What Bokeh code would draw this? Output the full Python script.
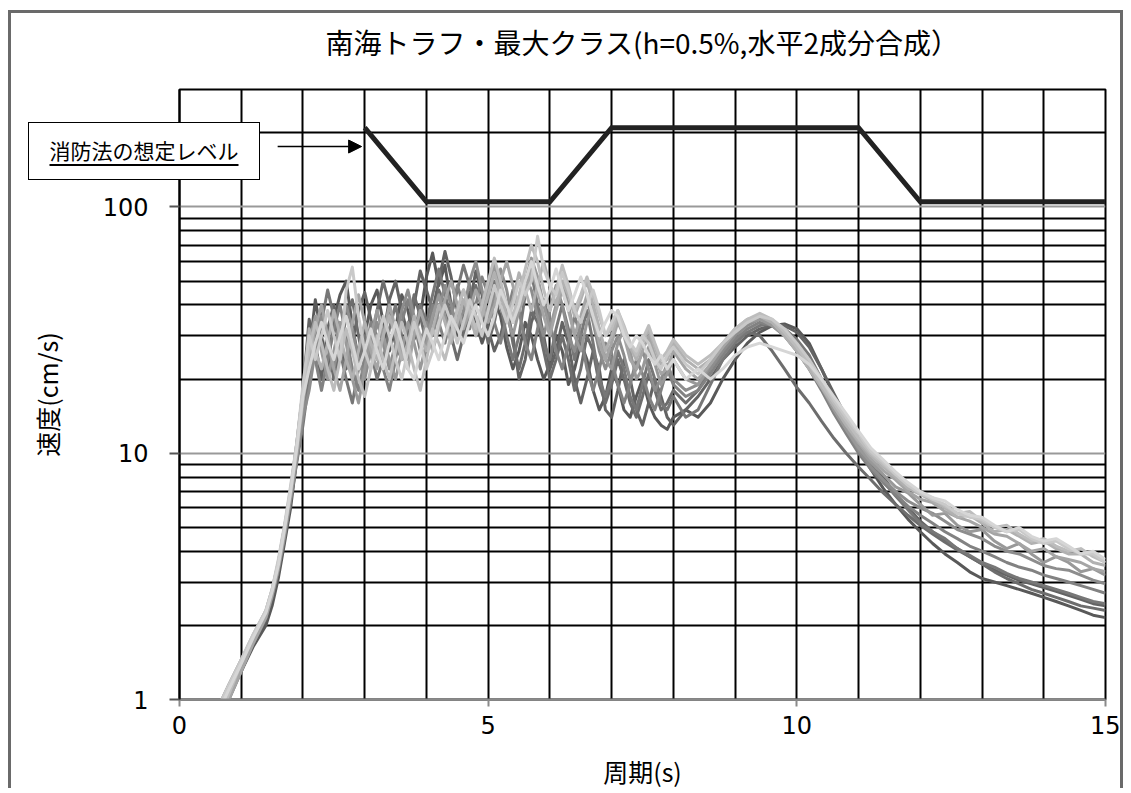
from bokeh.plotting import figure
from bokeh.models import Range1d, FixedTicker, PrintfTickFormatter, Arrow, NormalHead, Div, Title
from bokeh.layouts import column
from bokeh.embed import file_html
from bokeh.resources import INLINE

# ---------------- data ----------------
TITLE = "南海トラフ・最大クラス(h=0.5%,水平2成分合成）"
X_LABEL = "周期(s)"
Y_LABEL = "速度(cm/s)"
NOTE = "消防法の想定レベル"

X_TICKS = [0, 5, 10, 15]
Y_TICKS = [1, 10, 100]
Y_MINOR = [2, 3, 4, 5, 6, 7, 8, 9, 20, 30, 40, 50, 60, 70, 80, 90, 200]
X_GRID = [0, 1, 2, 3, 4, 5, 6, 7, 8, 9, 10, 11, 12, 13, 14, 15]

# fire service act assumed level
LEVEL_X = [3, 4, 6, 7, 11, 12, 15]
LEVEL_Y = [210, 105, 105, 210, 210, 105, 105]

# period grid (s)
X_A = [0.6, 0.8, 1.0, 1.2, 1.4, 1.5, 1.6, 1.7, 1.8, 1.9, 2.0]
X_B = [2.1, 2.2, 2.3, 2.4, 2.5, 2.6, 2.7, 2.8, 2.9, 3.0,
       3.1, 3.2, 3.3, 3.4, 3.5, 3.6, 3.7, 3.8, 3.9, 4.0,
       4.1, 4.2, 4.3, 4.4, 4.5, 4.6, 4.7, 4.8, 4.9, 5.0,
       5.1, 5.2, 5.3, 5.4, 5.5, 5.6, 5.7, 5.8, 5.9, 6.0,
       6.1, 6.2, 6.3, 6.4, 6.5, 6.6, 6.7, 6.8, 6.9, 7.0,
       7.1, 7.2, 7.3, 7.4, 7.5, 7.6, 7.7, 7.8, 7.9, 8.0]
X_C = [8.2, 8.4, 8.6, 8.8, 9.0, 9.2, 9.4, 9.6, 9.8, 10.0,
       10.2, 10.4, 10.6, 10.8, 11.0, 11.2, 11.4, 11.6, 11.8, 12.0,
       12.2, 12.4, 12.6, 12.8, 13.0, 13.2, 13.4, 13.6, 13.8, 14.0,
       14.2, 14.4, 14.6, 14.8, 15.0]
PERIOD = X_A + X_B + X_C

s1 = ([0.8, 1.05, 1.3, 1.65, 2.0, 2.4, 3.1, 4.3, 6.0, 9.5, 14] +
      [25, 42, 30, 22, 35, 44, 50, 33, 24, 30, 40, 46, 34, 26, 32, 44, 38, 29, 36, 52,
       65, 48, 58, 40, 30, 36, 45, 34, 28, 33, 42, 36, 27, 22, 26, 34, 30, 24, 20, 23,
       30, 26, 19, 22, 28, 24, 18, 15, 17, 22, 19, 15, 14, 17, 20, 16, 14, 13, 12.5, 14] +
      [15, 14, 16, 20, 24, 28, 31, 33, 33.5, 32, 28, 22, 17, 13, 10.5, 8.6, 7.2, 6.2, 5.4, 4.8,
       4.3, 3.9, 3.6, 3.3, 3.1, 3.0, 2.9, 2.8, 2.7, 2.6, 2.5, 2.4, 2.3, 2.2, 2.15])
s2 = ([0.75, 1.0, 1.3, 1.7, 2.1, 2.6, 3.4, 4.8, 7.0, 11, 18] +
      [35, 28, 20, 32, 40, 30, 22, 28, 38, 45, 35, 26, 30, 42, 50, 38, 30, 40, 55, 46,
       38, 50, 66, 52, 38, 30, 40, 55, 44, 32, 26, 30, 38, 30, 20, 24, 34, 40, 30, 22,
       26, 34, 28, 20, 16, 20, 26, 22, 15, 14, 18, 24, 20, 15, 13, 16, 20, 17, 14, 13] +
      [15, 17, 20, 24, 27, 30, 32, 33, 33, 31, 27, 22, 17.5, 14, 11.5, 9.5, 8.0, 6.8, 6.0, 5.3,
       4.8, 4.4, 4.1, 3.8, 3.55, 3.35, 3.2, 3.05, 2.95, 2.85, 2.75, 2.65, 2.55, 2.45, 2.4])
s3 = ([0.85, 1.1, 1.4, 1.75, 2.2, 2.7, 3.5, 4.8, 6.8, 10, 15] +
      [22, 30, 38, 28, 20, 26, 36, 42, 30, 22, 28, 38, 50, 40, 28, 24, 32, 44, 36, 28,
       34, 46, 40, 30, 24, 30, 40, 48, 38, 28, 34, 46, 40, 28, 22, 28, 38, 34, 26, 20,
       24, 30, 24, 18, 22, 30, 26, 19, 16, 19, 24, 20, 16, 14, 17, 21, 18, 15, 16, 18] +
      [16, 18, 22, 26, 29, 31, 30, 26, 22, 18.5, 16, 13.5, 11.5, 10, 8.8, 7.8, 6.9, 6.2, 5.6, 5.1,
       4.7, 4.35, 4.05, 3.8, 3.55, 3.3, 3.1, 2.95, 2.8, 2.7, 2.6, 2.5, 2.4, 2.35, 2.3])
s4 = ([0.8, 1.05, 1.35, 1.7, 2.15, 2.6, 3.3, 4.5, 6.4, 9.2, 13] +
      [20, 26, 34, 46, 36, 26, 20, 16, 22, 30, 26, 20, 24, 32, 40, 30, 24, 30, 40, 34,
       44, 56, 44, 36, 46, 58, 48, 36, 30, 38, 50, 40, 30, 24, 30, 44, 54, 40, 28, 24,
       32, 40, 32, 24, 30, 38, 28, 20, 17, 20, 26, 22, 17, 15, 19, 24, 20, 16, 15, 17] +
      [14, 15, 19, 24, 28, 31, 33, 33.5, 32, 29, 25, 20, 16, 13, 10.8, 9.0, 7.7, 6.7, 5.9, 5.2,
       4.8, 4.5, 4.1, 3.85, 3.6, 3.45, 3.25, 3.1, 3.0, 2.9, 2.8, 2.7, 2.6, 2.5, 2.45])
s5 = ([0.9, 1.15, 1.45, 1.8, 2.25, 2.7, 3.5, 4.7, 6.6, 9.6, 16] +
      [30, 24, 18, 24, 32, 40, 30, 22, 18, 24, 34, 30, 22, 18, 24, 34, 42, 34, 26, 30,
       40, 34, 28, 36, 48, 40, 32, 40, 52, 44, 34, 28, 36, 46, 38, 28, 24, 32, 42, 34,
       26, 22, 28, 36, 30, 22, 18, 22, 28, 24, 19, 16, 19, 24, 21, 17, 15, 18, 22, 19] +
      [17, 18, 21, 25, 29, 32, 34, 33, 30, 26, 22, 18, 14.5, 12, 10, 8.6, 7.6, 6.8, 6.1, 5.6,
       5.2, 4.8, 4.5, 4.2, 4.0, 3.8, 3.6, 3.45, 3.35, 3.2, 3.1, 3.0, 2.9, 2.8, 2.7])
s6 = ([0.8, 1.05, 1.35, 1.75, 2.2, 2.65, 3.4, 4.6, 6.5, 9.4, 14] +
      [18, 26, 36, 28, 22, 30, 40, 32, 24, 20, 26, 34, 28, 22, 28, 38, 46, 36, 28, 34,
       30, 38, 48, 40, 32, 38, 50, 60, 46, 36, 44, 56, 46, 34, 40, 52, 46, 36, 30, 38,
       48, 40, 30, 26, 34, 42, 34, 26, 22, 26, 30, 25, 20, 22, 26, 22, 18, 20, 23, 20] +
      [18, 19, 22, 26, 30, 33, 35, 34, 31, 27, 23, 19, 15.5, 12.5, 10.3, 8.8, 7.8, 7.0, 6.4, 6.0,
       5.7, 5.3, 4.9, 4.7, 4.5, 4.2, 4.0, 3.9, 3.7, 3.5, 3.4, 3.35, 3.2, 3.05, 2.95])
s7 = ([0.85, 1.1, 1.4, 1.8, 2.25, 2.75, 3.6, 5.0, 7.0, 10.5, 17] +
      [28, 36, 26, 20, 26, 34, 28, 20, 16, 22, 30, 38, 30, 24, 20, 26, 34, 28, 22, 28,
       36, 44, 36, 30, 38, 46, 38, 30, 36, 48, 58, 46, 36, 30, 38, 50, 62, 52, 40, 32,
       40, 50, 40, 30, 26, 34, 40, 32, 24, 22, 28, 32, 26, 20, 22, 27, 23, 19, 21, 24] +
      [20, 19, 23, 27, 31, 34, 35, 33, 30, 26, 22, 18.5, 15, 12.5, 10.5, 9.2, 8.2, 7.3, 6.9, 6.2,
       5.6, 5.7, 5.1, 4.8, 4.9, 4.4, 4.1, 4.3, 3.9, 3.6, 3.8, 3.6, 3.3, 3.4, 3.2])
s8 = ([0.75, 1.0, 1.3, 1.7, 2.15, 2.65, 3.4, 4.7, 6.8, 10, 16] +
      [24, 32, 40, 30, 22, 18, 24, 34, 44, 34, 26, 22, 30, 40, 32, 26, 22, 30, 38, 32,
       26, 32, 42, 50, 40, 32, 38, 46, 40, 34, 40, 50, 60, 48, 38, 44, 56, 46, 36, 30,
       38, 46, 38, 30, 36, 44, 36, 28, 24, 28, 34, 30, 24, 22, 26, 30, 25, 21, 22, 26] +
      [22, 20, 23, 27, 31, 34, 36, 34, 31, 27, 23, 19, 15.5, 13, 11, 9.5, 8.5, 7.8, 7.0, 6.5,
       6.3, 5.8, 5.5, 5.3, 5.0, 4.7, 4.6, 4.3, 4.0, 4.1, 3.8, 3.7, 3.6, 3.4, 3.3])
s9 = ([0.85, 1.1, 1.45, 1.85, 2.3, 2.8, 3.6, 4.9, 7.0, 10.5, 17] +
      [32, 26, 22, 28, 38, 30, 24, 20, 26, 34, 28, 24, 30, 36, 30, 24, 28, 36, 30, 26,
       32, 40, 34, 28, 34, 42, 36, 30, 36, 44, 54, 44, 36, 42, 54, 46, 38, 48, 60, 48,
       40, 50, 44, 36, 42, 50, 40, 32, 26, 30, 36, 32, 27, 24, 28, 32, 27, 23, 24, 28] +
      [24, 22, 24, 28, 32, 35, 36, 34, 30, 26, 22, 18.5, 15.5, 13, 11.2, 9.8, 8.8, 8.0, 7.2, 6.8,
       6.4, 6.0, 5.5, 5.6, 5.2, 4.8, 4.9, 4.6, 4.3, 4.4, 4.1, 3.9, 3.9, 3.6, 3.5])
s10 = ([0.8, 1.05, 1.4, 1.8, 2.3, 2.8, 3.6, 5.0, 7.2, 11, 18] +
       [26, 34, 28, 22, 18, 24, 32, 26, 20, 17, 22, 30, 24, 20, 26, 34, 28, 22, 18, 24,
        32, 28, 24, 30, 38, 46, 38, 32, 40, 50, 62, 50, 40, 36, 44, 56, 70, 60, 46, 38,
        46, 58, 48, 38, 44, 52, 44, 36, 30, 32, 38, 33, 28, 25, 29, 33, 28, 24, 26, 29] +
       [25, 23, 25, 28, 32, 35, 37, 35, 31, 27, 23, 19, 16, 13.5, 11.5, 10, 9.0, 8.2, 7.5, 6.8,
        6.6, 6.1, 5.7, 5.8, 5.3, 5.0, 5.1, 4.7, 4.4, 4.5, 4.2, 4.0, 4.1, 3.8, 3.6])
s11 = ([0.9, 1.15, 1.45, 1.85, 2.3, 2.8, 3.7, 5.1, 7.4, 11, 19] +
       [30, 24, 30, 38, 30, 24, 46, 57, 36, 26, 22, 28, 36, 30, 24, 20, 26, 34, 28, 22,
        26, 34, 40, 34, 28, 34, 42, 36, 30, 38, 48, 40, 34, 40, 50, 44, 50, 76, 56, 48,
        44, 54, 46, 38, 34, 40, 46, 38, 30, 34, 38, 32, 28, 26, 30, 28, 24, 22, 25, 27] +
       [23, 21, 24, 28, 31, 34, 36, 35, 32, 28, 24, 20, 16.5, 14, 12, 10.2, 9.2, 8.2, 7.4, 6.9,
        6.5, 6.2, 5.7, 5.5, 5.4, 5.0, 4.8, 4.9, 4.5, 4.3, 4.4, 4.1, 3.9, 3.9, 3.6])
s12 = ([0.85, 1.1, 1.4, 1.8, 2.25, 2.75, 3.5, 4.9, 7.0, 10.5, 17] +
       [22, 28, 34, 28, 24, 30, 36, 28, 22, 26, 32, 26, 22, 28, 34, 28, 22, 20, 26, 32,
        28, 24, 30, 36, 32, 28, 34, 40, 34, 30, 36, 46, 40, 34, 40, 50, 60, 48, 40, 46,
        56, 46, 38, 44, 52, 44, 36, 30, 34, 38, 36, 30, 27, 30, 28, 25, 23, 25, 22, 24] +
       [20, 22, 20, 22, 25, 27, 28, 27, 26, 25, 23, 20, 17, 14.5, 12.3, 10.5, 9.4, 8.4, 7.6, 7.0,
        6.6, 6.4, 5.9, 5.6, 5.5, 5.1, 4.8, 5.0, 4.6, 4.4, 4.5, 4.2, 3.9, 4.0, 3.7])

SERIES = [s1, s2, s3, s4, s5, s6, s7, s8, s9, s10, s11, s12]
GRAYS = ["#595959", "#636363", "#6d6d6d", "#777777", "#828282", "#8d8d8d",
         "#999999", "#a5a5a5", "#b1b1b1", "#bdbdbd", "#c9c9c9", "#d6d6d6"]

# ---------------- figure ----------------
JP = "Noto Sans CJK JP"
p = figure(width=1115, height=778, x_range=Range1d(0, 15), y_range=Range1d(1, 300),
           y_axis_type="log", output_backend="svg", toolbar_location=None, title=None,
           min_border_left=168, min_border_right=21, min_border_top=76, min_border_bottom=92)
p.margin = (10, 0, 0, 8)
p.styles = {"border-left": "3px solid #6a6a6a", "border-top": "3px solid #6a6a6a",
            "border-right": "3px solid #6a6a6a"}
p.background_fill_color = "white"
p.border_fill_color = "white"
p.outline_line_color = "black"
p.outline_line_width = 2

# title: a small spacer next to the frame, then the main title above it
p.add_layout(Title(text=" ", text_font_size="10px", standoff=8), "above")
p.add_layout(Title(text=TITLE, align="center", vertical_align="top", text_font=JP,
                   text_font_size="28px", text_font_style="normal", text_color="black",
                   standoff=10), "above")

# grids
p.xgrid.ticker = FixedTicker(ticks=X_GRID)
p.xgrid.grid_line_color = "black"
p.xgrid.grid_line_width = 2
p.ygrid.ticker = FixedTicker(ticks=Y_TICKS, minor_ticks=Y_MINOR)
p.ygrid.grid_line_color = "#999999"
p.ygrid.grid_line_width = 2
p.ygrid.minor_grid_line_color = "black"
p.ygrid.minor_grid_line_width = 2

# axes
xa = p.xaxis[0]
xa.ticker = FixedTicker(ticks=X_TICKS)
xa.axis_line_color = "#8a8a8a"
xa.axis_line_width = 2
xa.major_tick_line_color = "#8a8a8a"
xa.major_tick_line_width = 2
xa.major_tick_in = 0
xa.major_tick_out = 7
xa.minor_tick_line_color = None
xa.major_label_text_font = "DejaVu Sans"
xa.major_label_text_font_size = "24px"
xa.major_label_text_color = "black"
xa.major_label_standoff = 9
xa.axis_label = X_LABEL
xa.axis_label_text_font = JP
xa.axis_label_text_font_size = "25px"
xa.axis_label_text_font_style = "normal"
xa.axis_label_text_color = "black"
xa.axis_label_standoff = 16

ya = p.yaxis[0]
ya.ticker = FixedTicker(ticks=Y_TICKS)
ya.formatter = PrintfTickFormatter(format="%d")
ya.axis_line_color = "black"
ya.axis_line_width = 2
ya.major_tick_line_color = "#555555"
ya.major_tick_line_width = 2
ya.major_tick_in = 0
ya.major_tick_out = 10
ya.minor_tick_line_color = None
ya.major_label_text_font = "DejaVu Sans"
ya.major_label_text_font_size = "24px"
ya.major_label_text_color = "black"
ya.major_label_standoff = 21
ya.axis_label = Y_LABEL
ya.axis_label_text_font = JP
ya.axis_label_text_font_size = "25px"
ya.axis_label_text_font_style = "normal"
ya.axis_label_text_color = "black"
ya.axis_label_standoff = 35

# spectra
for ys, col in zip(SERIES, GRAYS):
    p.line(PERIOD, ys, line_color=col, line_width=3, line_join="round")

# assumed level
p.line(LEVEL_X, LEVEL_Y, line_color="#222222", line_width=5, line_join="miter")

# arrow pointing at the level line
p.add_layout(Arrow(x_start=1.59, y_start=176, x_end=2.95, y_end=176,
                   end=NormalHead(size=13, fill_color="black", line_color="black"),
                   line_color="black", line_width=1.5))

# note box (outside the frame, so an HTML overlay)
note = Div(text="<u style='text-underline-offset:5px;text-decoration-thickness:2px'>" + NOTE + "</u>",
           width=232, height=58,
           styles={"position": "absolute", "left": "23px", "top": "117px", "z-index": "10",
                   "background-color": "white", "border": "1.5px solid black",
                   "box-sizing": "border-box",
                   "font-family": "'Noto Sans CJK JP'", "font-size": "21px", "color": "black",
                   "text-align": "center", "line-height": "54px"})

layout = column(p, note)
open("out.html", "w", encoding="utf-8").write(file_html(layout, INLINE, title="chart"))
